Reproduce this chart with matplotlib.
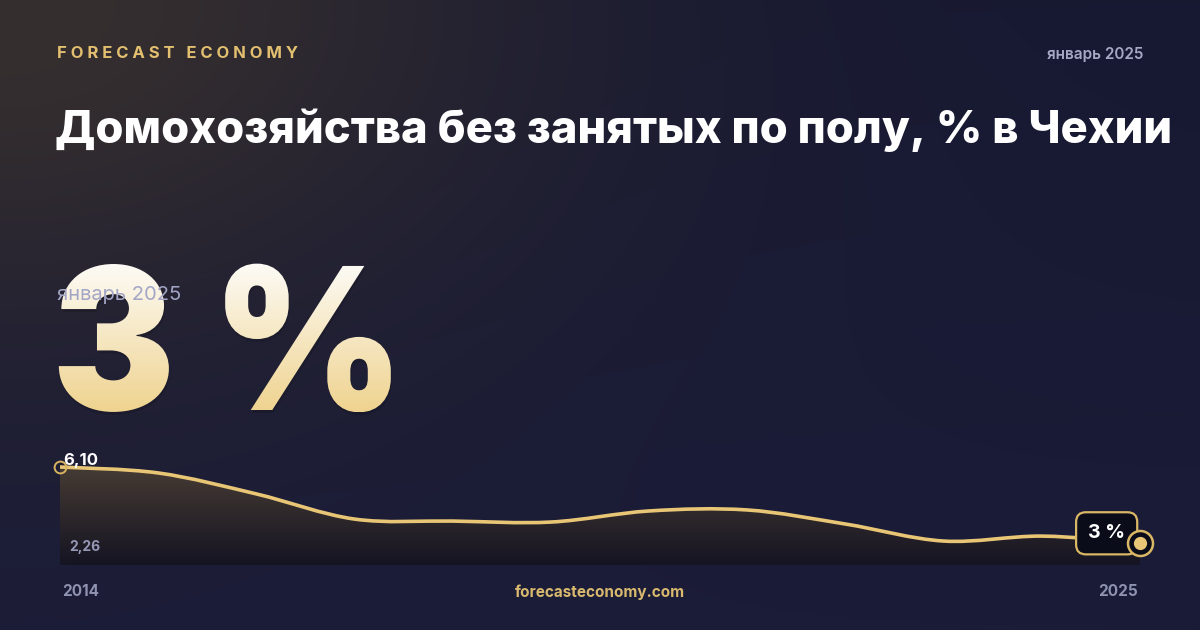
import numpy as np
import matplotlib
matplotlib.use("Agg")
import matplotlib.pyplot as plt
from matplotlib.path import Path
from matplotlib.patches import PathPatch
from matplotlib.textpath import TextPath
from matplotlib.font_manager import FontProperties
import matplotlib.transforms as mtrans

# data
years = [2014, 2015, 2016, 2017, 2018, 2019, 2020, 2021, 2022, 2023, 2024, 2025]
values = [6.10, 5.80, 4.74, 3.47, 3.37, 3.32, 3.88, 3.93, 3.22, 2.36, 2.61, 2.26]
headline = "3 %"
period = "январь 2025"
title = "Домохозяйства без занятых по полу, % в Чехии"
brand = "FORECAST ECONOMY"
site = "forecasteconomy.com"

GOLD = "#e8c676"
BG = np.array([0x17, 0x19, 0x32]) / 255
GLOW = np.array([0x36, 0x2f, 0x2f]) / 255
FONT = ["Inter", "DejaVu Sans"]

plt.rcParams["font.family"] = FONT

W, H = 1200, 630
fig = plt.figure(figsize=(W / 100, H / 100), dpi=100)

# background in pixel coordinates
bg = fig.add_axes([0, 0, 1, 1])
bg.set_xlim(0, W)
bg.set_ylim(H, 0)
bg.axis("off")
yy, xx = np.mgrid[0:H, 0:W]
d = np.sqrt((xx / 1.4) ** 2 + (yy * 1.1) ** 2)
k = np.exp(-(d / 380.0) ** 2)[..., None]
img = BG + (GLOW - BG) * k
img = img + (np.array([0x1b, 0x1c, 0x38]) / 255 - BG) * (yy / H)[..., None] * (1 - k)
bg.imshow(np.clip(img, 0, 1), extent=(0, W, H, 0), aspect="auto", zorder=0)

# header
bg.text(57, 53, "\u2009\u200a".join(brand), color="#e3c06f", fontsize=12, fontweight="bold",
        va="center", ha="left")
bg.text(1143, 54, period, color="#a7a9c4", fontsize=11, fontweight="semibold",
        va="center", ha="right")
bg.text(55, 143, title, color="white", fontsize=32.6, fontweight="heavy",
        va="baseline", ha="left")

# big headline with vertical gradient
fp = FontProperties(family="Inter", weight="black")
tp = TextPath((0, 0), headline, size=198, prop=fp)
tr = mtrans.Affine2D().scale(0.93, -1).translate(52, 410) + bg.transData
shadow = PathPatch(tp, transform=mtrans.Affine2D().scale(0.93, -1).translate(53, 413) + bg.transData,
                   fc="black", ec="none", alpha=0.12, zorder=2)
bg.add_patch(shadow)
clip = PathPatch(tp, transform=tr, fc="none", ec="none", zorder=3)
bg.add_patch(clip)
grad = np.linspace(0, 1, 256)[:, None]
top_c = np.array([0xfd, 0xfc, 0xf8]) / 255
bot_c = np.array([0xef, 0xd3, 0x8f]) / 255
gimg = top_c + (bot_c - top_c) * grad[..., None]
gimg = np.repeat(gimg, 2, axis=1)
im = bg.imshow(gimg, extent=(40, 420, 412, 260), aspect="auto", zorder=3)
im.set_clip_path(clip)
bg.text(57, 295, period, color="#a3a6c6", fontsize=14.5, va="center", ha="left", zorder=4)

# chart
ax = fig.add_axes([60 / W, (H - 565) / H, 1080 / W, 110 / H])
vmin, vmax = min(values), max(values)
rng = vmax - vmin
ax.axis("off")

# smooth curve through the points (Catmull-Rom as cubic Bezier)
pts = np.column_stack([years, values]).astype(float)
ext = np.vstack([pts[0], pts, pts[-1]])
verts = [tuple(pts[0])]
codes = [Path.MOVETO]
for i in range(1, len(ext) - 2):
    p0, p1, p2, p3 = ext[i - 1], ext[i], ext[i + 1], ext[i + 2]
    c1 = p1 + (p2 - p0) / 6
    c2 = p2 - (p3 - p1) / 6
    verts += [tuple(c1), tuple(c2), tuple(p2)]
    codes += [Path.CURVE4] * 3
line_path = Path(verts, codes)

ylo = vmin - 0.289 * rng
area_verts = verts + [(years[-1], ylo), (years[0], ylo), verts[0]]
area_codes = codes + [Path.LINETO, Path.LINETO, Path.CLOSEPOLY]
area = PathPatch(Path(area_verts, area_codes), fc="none", ec="none", transform=ax.transData)
ax.add_patch(area)
fg = np.linspace(0, 1, 256)[:, None]
ftop = np.array([0x46, 0x3b, 0x34]) / 255
fbot = np.array([0x15, 0x14, 0x22]) / 255
fimg = np.repeat((ftop + (fbot - ftop) * fg[..., None]), 2, axis=1)
fim = ax.imshow(fimg, extent=(years[0], years[-1], ylo, vmax), aspect="auto", zorder=1)
fim.set_clip_path(area)
ax.set_xlim(years[0], years[-1])
ax.set_ylim(ylo, vmax + 0.158 * rng)

ax.add_patch(PathPatch(line_path, fc="none", ec=GOLD, lw=2.6, capstyle="round",
                       transform=ax.transData, zorder=3))

# markers
ax.plot(years[0], values[0], "o", ms=8.5, mfc="none", mec="#d9b45f", mew=1.4,
        clip_on=False, zorder=5)
ax.annotate(headline, xy=(years[-1], values[-1]), xytext=(-24, 7), textcoords="offset points",
            ha="center", va="center", color="white", fontsize=14, fontweight="bold",
            bbox=dict(boxstyle="round,pad=0.62,rounding_size=0.5", fc="#0b0c1a", ec="#d9b765", lw=1.6),
            zorder=6, annotation_clip=False)
ax.plot(years[-1], values[-1], "o", ms=18, mfc="#0b0c1a", mec="#d9b765", mew=1.8,
        clip_on=False, zorder=7)
ax.plot(years[-1], values[-1], "o", ms=9.5, mfc="#e8c676", mec="none",
        clip_on=False, zorder=8)

ax.annotate(f"{vmax:.2f}".replace(".", ","), xy=(years[0], vmax), xytext=(2, 5),
            textcoords="offset points", ha="left", va="center", color="white",
            fontsize=12, fontweight="bold", zorder=9, annotation_clip=False)
ax.annotate(f"{vmin:.2f}".replace(".", ","), xy=(years[0], ylo), xytext=(7, 13),
            textcoords="offset points", ha="left", va="center", color="#9597b5",
            fontsize=10, fontweight="bold", zorder=9, annotation_clip=False)

# footer
bg.text(62, 592, str(years[0]), color="#8f92b0", fontsize=11, fontweight="bold",
        va="center", ha="left")
bg.text(1138, 592, str(years[-1]), color="#8f92b0", fontsize=11, fontweight="bold",
        va="center", ha="right")
bg.text(600, 592, site, color="#d8b96e", fontsize=11, fontweight="bold",
        va="center", ha="center")

fig.savefig("out.png", dpi=100)
